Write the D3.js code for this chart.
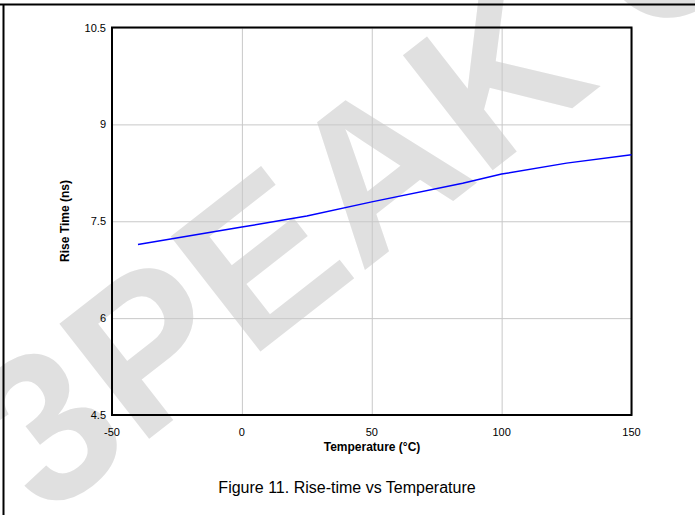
<!DOCTYPE html>
<html>
<head>
<meta charset="utf-8">
<title>Rise-time vs Temperature</title>
<script src="https://cdn.jsdelivr.net/npm/d3@7"></script>
<style>
body{ margin:0; background:#fff; }
svg text{ font-family:"Liberation Sans", Arial, sans-serif; }
</style>
</head>
<body>
<script>
// data
var temps = [-40, 0, 25, 50, 85, 100, 125, 150];
var riseTime = [7.14, 7.41, 7.58, 7.80, 8.09, 8.23, 8.40, 8.53];
var xTicks = [-50, 0, 50, 100, 150];
var yTicks = [4.5, 6, 7.5, 9, 10.5];

var width = 695,
    height = 515;

var svg = d3.select("body").append("svg")
    .attr("width", width)
    .attr("height", height);

svg.append("rect")
    .attr("width", width)
    .attr("height", height)
    .attr("fill", "#fff");

// watermark
svg.append("text")
    .attr("transform", "translate(45,520) rotate(-38)")
    .attr("font-size", 212)
    .attr("font-weight", "bold")
    .attr("fill", "#e0e0e0")
    .text("3PEAK CONFIDENTIAL");

// page frame (top + left)
svg.append("line").attr("x1", 0).attr("x2", width).attr("y1", 4.5).attr("y2", 4.5)
    .attr("stroke", "#000").attr("stroke-width", 2);
svg.append("line").attr("x1", 3.5).attr("x2", 3.5).attr("y1", 4).attr("y2", height)
    .attr("stroke", "#000").attr("stroke-width", 2);

var x = d3.scaleLinear().domain([-50, 150]).range([112, 631.5]);
var y = d3.scaleLinear().domain([4.5, 10.5]).range([415, 27.5]);

// grid
svg.append("g")
    .attr("transform", "translate(0," + y(4.5) + ")")
    .call(d3.axisBottom(x).tickValues(xTicks).tickSize(-(y(4.5) - y(10.5))).tickFormat(""))
    .call(function(g){
        g.select(".domain").remove();
        g.selectAll("line").attr("stroke", "#c8c8c8");
    });
svg.append("g")
    .attr("transform", "translate(" + x(-50) + ",0)")
    .call(d3.axisLeft(y).tickValues(yTicks).tickSize(-(x(150) - x(-50))).tickFormat(""))
    .call(function(g){
        g.select(".domain").remove();
        g.selectAll("line").attr("stroke", "#c8c8c8");
    });

// plot border
svg.append("rect")
    .attr("x", x(-50))
    .attr("y", y(10.5))
    .attr("width", x(150) - x(-50))
    .attr("height", y(4.5) - y(10.5))
    .attr("fill", "none")
    .attr("stroke", "#000")
    .attr("stroke-width", 2);

// tick labels
svg.append("g").selectAll("text")
    .data(xTicks).enter().append("text")
    .attr("x", function(d){ return x(d); })
    .attr("y", 436)
    .attr("text-anchor", "middle")
    .attr("font-size", 11)
    .attr("fill", "#000")
    .text(function(d){ return d; });

svg.append("g").selectAll("text")
    .data(yTicks).enter().append("text")
    .attr("x", 106)
    .attr("y", function(d){ return y(d) + 4; })
    .attr("text-anchor", "end")
    .attr("font-size", 11)
    .attr("fill", "#000")
    .text(function(d){ return d; });

// series
var points = temps.map(function(t, i){ return [t, riseTime[i]]; });
svg.append("path")
    .datum(points)
    .attr("fill", "none")
    .attr("stroke", "#0000ff")
    .attr("stroke-width", 1.5)
    .attr("d", d3.line()
        .x(function(d){ return x(d[0]); })
        .y(function(d){ return y(d[1]); }));

// axis titles
svg.append("text")
    .attr("x", 372)
    .attr("y", 451)
    .attr("text-anchor", "middle")
    .attr("font-size", 12)
    .attr("font-weight", "bold")
    .text("Temperature (°C)");

svg.append("text")
    .attr("transform", "translate(69,221) rotate(-90)")
    .attr("text-anchor", "middle")
    .attr("font-size", 12)
    .attr("font-weight", "bold")
    .text("Rise Time (ns)");

// caption
svg.append("text")
    .attr("x", 347)
    .attr("y", 493)
    .attr("text-anchor", "middle")
    .attr("font-size", 16)
    .text("Figure 11. Rise-time vs Temperature");
</script>
</body>
</html>
